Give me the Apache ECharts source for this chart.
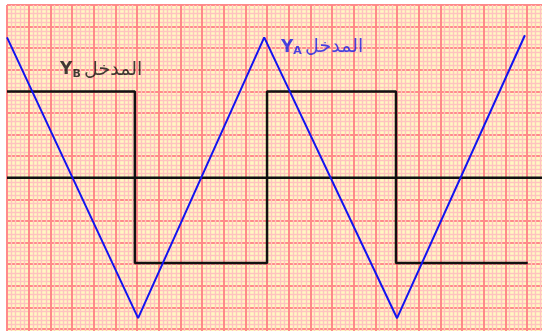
<!DOCTYPE html>
<html>
<head>
<meta charset="utf-8">
<script src="https://cdn.jsdelivr.net/npm/echarts@6/dist/echarts.min.js"></script>
<style>
  html, body { margin: 0; padding: 0; background: #fff; }
  #main { width: 542px; height: 331px; }
</style>
</head>
<body>
<div id="main"></div>
<script>
// triangle wave (input YA), x and y in screen divisions
const triX = [0, 6.05, 11.87, 18.0, 23.9]
const triY = [6.5, -6.5, 6.5, -6.5, 6.6]

// square wave (input YB)
const sqX = [0, 5.9, 5.9, 12.0, 12.0, 17.95, 17.95, 24.03]
const sqY = [4, 4, -3.95, -3.95, 4, 4, -3.95, -3.95]

// zero reference line
const refX = [0, 25]
const refY = [0, 0]

// channel labels: anchor (divisions), subscript letter
const labelX = [2.45, 12.64]
const labelY = [5.0, 6.05]
const labelSub = ['B', 'A']
const labelWord = 'المدخل'

const chart = echarts.init(document.getElementById('main'))

const zip = (xs, ys) => xs.map((x, i) => [x, ys[i]])

const gridAxis = (min, max) => ({
  type: 'value',
  min: min,
  max: max,
  interval: 1,
  axisLine: { show: false },
  axisTick: { show: false },
  axisLabel: { show: false },
  splitLine: { show: true, lineStyle: { color: '#ff8a8a', width: 2 } },
  minorTick: { show: false, splitNumber: 5 },
  minorSplitLine: { show: true, lineStyle: { color: '#ffc2c0', width: 1.4 } }
})

const richFor = (color) => ({
  y: { fontFamily: 'DejaVu Sans', fontSize: 17, fontWeight: 'bold', color: color },
  s: { fontFamily: 'DejaVu Sans', fontSize: 11, fontWeight: 'bold', color: color, padding: [8, 0, 0, 0] },
  a: { fontFamily: 'DejaVu Sans', fontSize: 19, color: color }
})

const labelSeries = (i, color) => ({
  type: 'scatter',
  data: [[labelX[i], labelY[i]]],
  symbolSize: 0,
  silent: true,
  label: {
    show: true,
    position: 'right',
    distance: 0,
    formatter: '{y|Y}{s|' + labelSub[i] + '} {a|' + labelWord + '}',
    rich: richFor(color)
  }
})

const option = {
  backgroundColor: '#ffffff',
  animation: false,
  grid: {
    left: 7,
    top: 5,
    width: 541.75,
    height: 345.6,
    outerBoundsMode: 'none',
    show: true,
    backgroundColor: '#fff8c2',
    borderWidth: 0
  },
  xAxis: gridAxis(0, 25),
  yAxis: gridAxis(-8, 8),
  series: [
    {
      type: 'line',
      data: zip(refX, refY),
      symbol: 'none',
      lineStyle: { color: '#111', width: 2.5 }
    },
    {
      type: 'line',
      data: zip(sqX, sqY),
      symbol: 'none',
      lineStyle: { color: '#111', width: 2.5 }
    },
    {
      type: 'line',
      data: zip(triX, triY),
      symbol: 'none',
      lineStyle: { color: '#1414f0', width: 2 }
    },
    labelSeries(0, '#111111'),
    labelSeries(1, '#1a1ae6')
  ]
}

chart.setOption(option)
</script>
</body>
</html>
